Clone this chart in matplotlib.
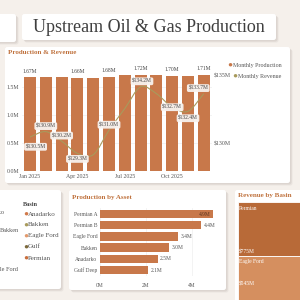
import matplotlib
matplotlib.use("Agg")
import matplotlib.pyplot as plt
from matplotlib.patches import FancyBboxPatch, Rectangle, PathPatch
from matplotlib.path import Path
import numpy as np

plt.rcParams['font.family'] = ['Liberation Serif', 'DejaVu Serif']

# data
months = ['Jan 2025', 'Feb 2025', 'Mar 2025', 'Apr 2025', 'May 2025', 'Jun 2025',
          'Jul 2025', 'Aug 2025', 'Sep 2025', 'Oct 2025', 'Nov 2025', 'Dec 2025']
production = [1.67, 1.67, 1.67, 1.66, 1.66, 1.68, 1.71, 1.72, 1.71, 1.70, 1.70, 1.71]
revenue = [130.5, 130.9, 130.2, 129.3, 129.2, 131.0, 132.6, 134.2, 133.7, 132.7, 132.4, 133.7]
prod_label_idx = [0, 3, 5, 7, 9, 11]
rev_label_idx = [0, 1, 2, 3, 5, 7, 9, 10, 11]

assets = ['Permian A', 'Permian B', 'Eagle Ford', 'Bakken', 'Anadarko', 'Gulf Deep']
asset_prod = [4.9, 4.4, 3.4, 3.0, 2.5, 2.1]

basins = ['Anadarko', 'Bakken', 'Eagle Ford', 'Gulf', 'Permian']
basin_colors = ['#d0794a', '#a99b5c', '#e39a6c', '#7d6a3c', '#c96e3c']
treemap_names = ['Permian', 'Eagle Ford']
treemap_values = ['$775M', '$545M']

BG = '#f5f0eb'
BAR = '#c8784a'
LINE = '#a89a5c'
TITLE_C = '#c0733f'
TXT = '#555555'

fig = plt.figure(figsize=(3, 3), dpi=100)
fig.patch.set_facecolor(BG)


def rect(x0, y0, x1, y1):
    # pixel box (top-left origin) -> figure fraction
    return [x0 / 300, 1 - y1 / 300, (x1 - x0) / 300, (y1 - y0) / 300]


def card(x0, y0, x1, y1):
    for off, a in [(2.5, 0.10), (1.5, 0.14)]:
        sh = FancyBboxPatch((x0 / 300 + off / 300, 1 - y1 / 300 - off / 300),
                            (x1 - x0) / 300, (y1 - y0) / 300,
                            boxstyle="round,pad=0,rounding_size=0.008",
                            transform=fig.transFigure, fc='#8a7f78', ec='none',
                            alpha=a, zorder=-10)
        fig.patches.append(sh)
    p = FancyBboxPatch((x0 / 300, 1 - y1 / 300), (x1 - x0) / 300, (y1 - y0) / 300,
                       boxstyle="round,pad=0,rounding_size=0.008",
                       transform=fig.transFigure, fc='white', ec='none', zorder=-9)
    fig.patches.append(p)


def ftext(x, y, s, **kw):
    fig.text(x / 300, 1 - y / 300, s, **kw)


# cards
card(-6, 14, 16, 42)
card(22, 14, 276, 40)
card(5, 47, 290, 183)
card(-6, 190, 61, 289)
card(69, 190, 226, 290)
card(235, 190, 306, 306)

ftext(149, 27, 'Upstream Oil & Gas Production', fontsize=13, color='#3f3f3f',
      ha='center', va='center')

# --- production & revenue ---
ftext(8, 53, 'Production & Revenue', fontsize=5, color=TITLE_C, fontweight='bold',
      va='center')

ax = fig.add_axes(rect(22.1, 64.6, 211.7, 171))
x = np.arange(len(months))
ax.bar(x, production, width=0.76, color=BAR, zorder=2)
ax.set_xlim(-0.5, 11.5)
ax.set_ylim(0, 1.9)
ax.set_yticks([0, 0.5, 1.0, 1.5])
ax.set_yticklabels(['0.0M', '0.5M', '1.0M', '1.5M'])
ax.set_xticks([0, 3, 6, 9])
ax.set_xticklabels([months[i] for i in [0, 3, 6, 9]])
ax.tick_params(length=0, labelsize=4.2, labelcolor=TXT, pad=2)
ax.grid(axis='y', color='#eeeeee', lw=0.5, zorder=0)
for s in ax.spines.values():
    s.set_visible(False)
ax.set_facecolor('none')
for i in prod_label_idx:
    ax.annotate(f'{production[i]:.2f}M', (x[i], production[i]), xytext=(0, 4.5),
                textcoords='offset points', ha='center', va='center', fontsize=4,
                color='#444444', zorder=5,
                bbox=dict(boxstyle='round,pad=0.25,rounding_size=0.3', fc='white',
                          ec='none', alpha=0.95))

ax2 = ax.twinx()
ax2.set_ylim(128.0, 135.84)
ax2.set_yticks([130, 135])
ax2.set_yticklabels(['$130M', '$135M'])
ax2.tick_params(length=0, labelsize=4.2, labelcolor=TXT, pad=1.5)
for s in ax2.spines.values():
    s.set_visible(False)

# smooth line through points (Catmull-Rom as cubic Bezier path)
pts = np.column_stack([x, revenue]).astype(float)
verts = [pts[0]]
codes = [Path.MOVETO]
n = len(pts)
for i in range(n - 1):
    p0 = pts[max(i - 1, 0)]
    p1 = pts[i]
    p2 = pts[i + 1]
    p3 = pts[min(i + 2, n - 1)]
    verts += [p1 + (p2 - p0) / 6, p2 - (p3 - p1) / 6, p2]
    codes += [Path.CURVE4] * 3
ax2.add_patch(PathPatch(Path(verts, codes), fc='none', ec=LINE, lw=0.8, zorder=3))

rev_offsets = {0: (4, -7), 1: (0, 4), 2: (0, 4), 3: (0, -4), 5: (0, 4), 7: (1, 4),
               9: (0, 0), 10: (0, -5), 11: (-4, 4)}
for i in rev_label_idx:
    dx, dy = rev_offsets[i]
    ax2.annotate(f'${revenue[i]:.1f}M', (x[i], revenue[i]), xytext=(dx, dy),
                 textcoords='offset points', ha='center', va='center', fontsize=4,
                 color='#444444', zorder=6,
                 bbox=dict(boxstyle='round,pad=0.25,rounding_size=0.3', fc='#f7f2ee',
                           ec='none', alpha=0.95))

# legend
ftext(230, 65, '\u25cf', fontsize=6, color=BAR, ha='center', va='center')
ftext(233, 65, 'Monthly Production', fontsize=4.3, color=TXT, va='center')
ftext(235, 76, '\u25cf', fontsize=6, color=LINE, ha='center', va='center')
ftext(238, 76, 'Monthly Revenue', fontsize=4.3, color=TXT, va='center')

# --- bottom left card (pie legend, clipped) ---
ftext(23, 205, 'Basin', fontsize=4.5, color='#444444', fontweight='bold', va='center')
for k, (b, c) in enumerate(zip(basins, basin_colors)):
    yy = 214 + k * 11
    ftext(25.5, yy, '\u25cf', fontsize=6, color=c, ha='center', va='center')
    ftext(28, yy, b, fontsize=5, color=TXT, va='center')
ftext(5, 212, 'Anadarko', fontsize=4.5, color=TXT, ha='right', va='center')
ftext(19.5, 231, 'Bakken', fontsize=4.5, color=TXT, ha='right', va='center')
ftext(18, 270, 'Eagle Ford', fontsize=4.5, color=TXT, ha='right', va='center')

# --- production by asset ---
ftext(72, 197, 'Production by Asset', fontsize=5, color=TITLE_C, fontweight='bold',
      va='center')
bx = fig.add_axes(rect(100, 208.4, 215, 275.6))
yy = np.arange(len(assets))
bx.barh(yy, asset_prod, height=0.75, color=BAR, zorder=2)
bx.set_ylim(len(assets) - 0.5, -0.5)
bx.set_xlim(0, 5.0)
bx.set_xticks([0, 2, 4])
bx.set_xticklabels(['0M', '2M', '4M'])
bx.set_yticks(yy)
bx.set_yticklabels(assets)
bx.tick_params(length=0, labelsize=4, labelcolor=TXT, pad=2)
bx.tick_params(axis='x', pad=5)
bx.grid(axis='x', color='#eeeeee', lw=0.5, zorder=0)
for s in bx.spines.values():
    s.set_visible(False)
bx.set_facecolor('none')
for i, v in enumerate(asset_prod):
    if i == 0:
        bx.text(v - 0.08, i, f'{v:.1f}M', ha='right', va='center', fontsize=4,
                color='#5a3520')
    else:
        bx.text(v + 0.1, i, f'{v:.1f}M', ha='left', va='center', fontsize=4,
                color=TXT)

# --- revenue by basin treemap ---
ftext(238, 196, 'Revenue by Basin', fontsize=5, color=TITLE_C, fontweight='bold',
      va='center')
fig.patches.append(Rectangle((237.5 / 300, 1 - 256 / 300), 70 / 300, 54 / 300,
                             transform=fig.transFigure, fc='#b86a38', ec='white', lw=0.6))
fig.patches.append(Rectangle((237.5 / 300, 1 - 300 / 300), 70 / 300, 44 / 300,
                             transform=fig.transFigure, fc='#d58f5f', ec='white', lw=0.6))
ftext(239, 208, treemap_names[0], fontsize=4, color='white', va='center')
ftext(239, 252, treemap_values[0], fontsize=4, color='white', va='center')
ftext(239, 261, treemap_names[1], fontsize=4, color='white', va='center')
ftext(239, 284, treemap_values[1], fontsize=4, color='white', va='center')

fig.savefig('out.png', dpi=100, facecolor=BG)
